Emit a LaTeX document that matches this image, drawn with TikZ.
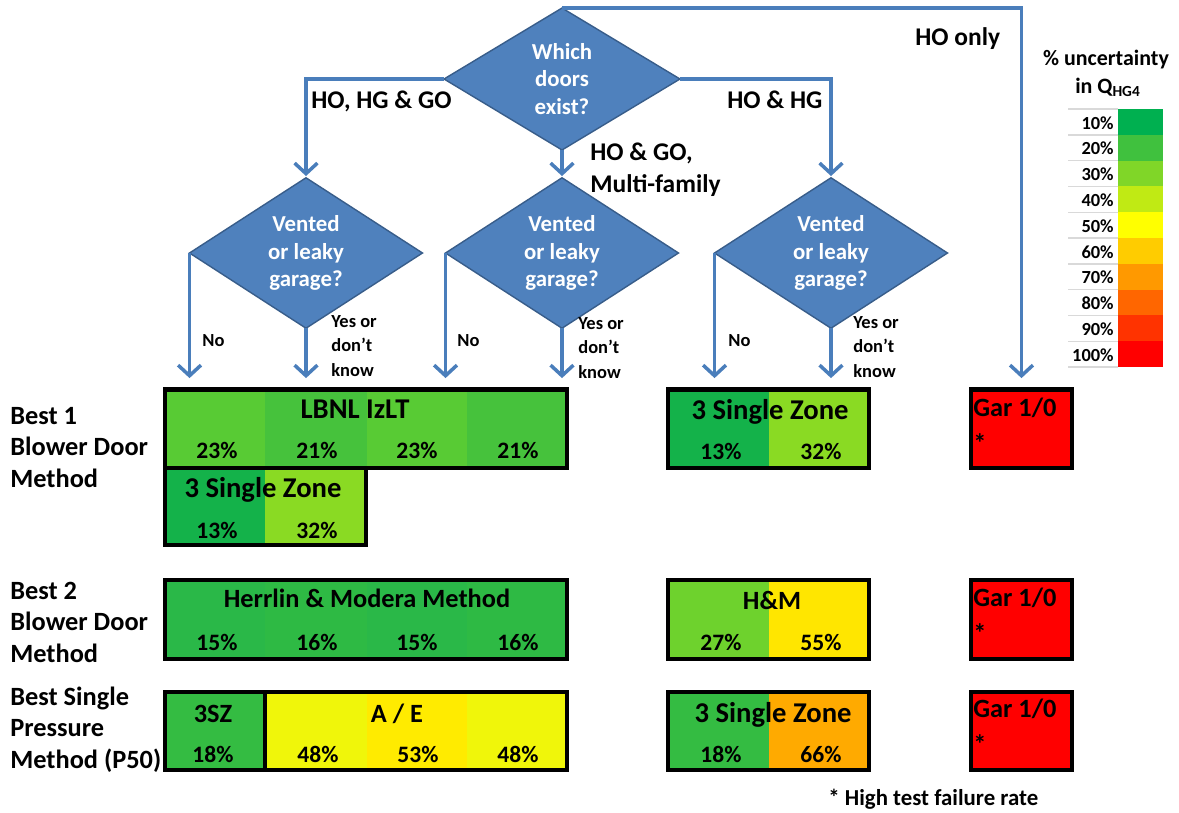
\documentclass[tikz,border=0pt]{standalone}
\usepackage{fontspec}
\setmainfont{Carlito}
\usetikzlibrary{shapes.geometric,arrows.meta}

\definecolor{askblue}{RGB}{79,129,189}
\definecolor{askedge}{RGB}{56,93,138}
\definecolor{lineblue}{RGB}{74,126,187}
% legend scale
\definecolor{p10}{RGB}{0,176,80}
\definecolor{p20}{RGB}{64,193,62}
\definecolor{p30}{RGB}{128,214,40}
\definecolor{p40}{RGB}{192,234,20}
\definecolor{p50}{RGB}{255,255,0}
\definecolor{p60}{RGB}{255,204,0}
\definecolor{p70}{RGB}{255,153,0}
\definecolor{p80}{RGB}{255,102,0}
\definecolor{p90}{RGB}{255,51,0}
\definecolor{p100}{RGB}{255,0,0}
% cell colours
\definecolor{c13}{RGB}{20,178,74}
\definecolor{c15}{RGB}{42,184,72}
\definecolor{c16}{RGB}{46,186,68}
\definecolor{c18}{RGB}{52,188,66}
\definecolor{c21}{RGB}{70,194,60}
\definecolor{c23}{RGB}{88,203,52}
\definecolor{c27}{RGB}{110,210,45}
\definecolor{c32}{RGB}{138,218,35}
\definecolor{c48}{RGB}{240,246,10}
\definecolor{c53}{RGB}{255,235,0}
\definecolor{c55}{RGB}{255,230,0}
\definecolor{c66}{RGB}{255,170,0}

\tikzset{
  flow/.style={draw=lineblue, line width=2pt, -{Straight Barb[length=6pt,width=13pt]}},
  tobox/.style={flow, shorten >=6.5pt},
  ask/.style={diamond, draw=askedge, fill=askblue, line width=0.8pt, text=white, align=center,
    inner sep=0pt, outer sep=0pt, minimum width=4.66cm, minimum height=2.86cm,
    font=\bfseries\fontsize{13}{15.6}\selectfont},
  branch/.style={anchor=base west, inner sep=0pt, align=left, font=\bfseries\fontsize{14.5}{18.2}\selectfont},
  answer/.style={anchor=base west, inner sep=0pt, align=left, font=\bfseries\fontsize{10.5}{13.7}\selectfont},
  rowlab/.style={anchor=base west, inner sep=0pt, align=left, font=\bfseries\fontsize{15}{17.9}\selectfont},
  frame/.style={draw=black, line width=2.45pt, inner sep=0pt, outer sep=0pt},
  bigname/.style={anchor=base, inner sep=0pt, font=\bfseries\fontsize{16.3}{19}\selectfont},
  midname/.style={anchor=base, inner sep=0pt, font=\bfseries\fontsize{15}{18}\selectfont},
  pct/.style={anchor=base, inner sep=0pt, font=\bfseries\fontsize{13.4}{16}\selectfont},
  garname/.style={anchor=base west, inner sep=0pt, align=left, font=\bfseries\fontsize{15}{20}\selectfont},
  legtitle/.style={anchor=base, inner sep=0pt, font=\bfseries\fontsize{12.5}{15}\selectfont},
  legtext/.style={anchor=base east, inner sep=0pt, font=\bfseries\fontsize{10.5}{12}\selectfont},
  leggrid/.style={draw=black!15, line width=0.8pt},
  note/.style={anchor=base west, inner sep=0pt, font=\bfseries\fontsize{13}{16}\selectfont}
}

\begin{document}
\begin{tikzpicture}[x=0.02cm,y=-0.02cm]
\useasboundingbox (0,0) rectangle (1179,812);

% decisions
\node[ask, minimum width=4.72cm, minimum height=2.84cm] (doors) at (562,79) {Which\\doors\\exist?};
\node[ask] (vent1) at (306,253) {Vented\\or leaky\\garage?};
\node[ask] (vent2) at (562,253) {Vented\\or leaky\\garage?};
\node[ask] (vent3) at (831,253) {Vented\\or leaky\\garage?};

% row 1 cells
\foreach \xa/\xb/\col in {165/265/c23, 265/367/c21, 367/467/c23, 467/567/c21}
  \fill[\col] (\xa,389.5) rectangle (\xb,468);
\fill[c13] (165,468) rectangle (265,545);
\fill[c32] (265,468) rectangle (366,545);
\fill[c13] (668,389.5) rectangle (769,468);
\fill[c32] (769,389.5) rectangle (869,468);
\fill[p100] (971,389.5) rectangle (1072,468);

% row 2 cells
\foreach \xa/\xb/\col in {165/265/c15, 265/367/c16, 367/467/c15, 467/567/c16}
  \fill[\col] (\xa,580) rectangle (\xb,659);
\fill[c27] (668,580) rectangle (769,659);
\fill[c55] (769,580) rectangle (869,659);
\fill[p100] (971,580) rectangle (1072,659);

% row 3 cells
\foreach \xa/\xb/\col in {165/265/c18, 265/367/c48, 367/467/c53, 467/567/c48}
  \fill[\col] (\xa,692) rectangle (\xb,770);
\fill[c18] (668,692) rectangle (769,770);
\fill[c66] (769,692) rectangle (869,770);
\fill[p100] (971,692) rectangle (1072,770);

% frames
\node[frame, minimum width=8.04cm, minimum height=1.57cm] (lbnl) at (366,428.75) {};
\node[frame, minimum width=4.02cm, minimum height=1.54cm] (szleft) at (265.5,506.5) {};
\node[frame, minimum width=4.02cm, minimum height=1.57cm] (szright) at (768.5,428.75) {};
\node[frame, minimum width=2.02cm, minimum height=1.57cm] (gar1) at (1021.5,428.75) {};
\node[frame, minimum width=8.04cm, minimum height=1.58cm] (herr) at (366,619.5) {};
\node[frame, minimum width=4.02cm, minimum height=1.58cm] (hm) at (768.5,619.5) {};
\node[frame, minimum width=2.02cm, minimum height=1.58cm] (gar2) at (1021.5,619.5) {};
\node[frame, minimum width=2.0cm, minimum height=1.56cm] (sz3) at (215,731) {};
\node[frame, minimum width=6.04cm, minimum height=1.56cm] (ae) at (416,731) {};
\node[frame, minimum width=4.02cm, minimum height=1.56cm] (szp) at (768.5,731) {};
\node[frame, minimum width=2.02cm, minimum height=1.56cm] (gar3) at (1021.5,731) {};

% connectors
\draw[flow, shorten >=1pt] (doors.west) -| (vent1.north);
\draw[flow, shorten >=1pt] (doors.south) -- (vent2.north);
\draw[flow, shorten >=1pt] (doors.east) -| (vent3.north);
\draw[tobox] (doors.north) -| (gar1.north);
\draw[tobox] (vent1.west) -- (vent1.west |- lbnl.north);
\draw[tobox] (vent1.south) -- (vent1.south |- lbnl.north);
\draw[tobox] (vent2.west) -- (vent2.west |- lbnl.north);
\draw[tobox] (vent2.south) -- (vent2.south |- lbnl.north);
\draw[tobox] (vent3.west) -- (vent3.west |- szright.north);
\draw[tobox] (vent3.south) -- (vent3.south |- szright.north);

% branch labels (multi-line nodes sit on their last baseline)
\node[branch] (hoall) at (311,108) {HO, HG \& GO};
\node[branch] (hohg) at (727,108) {HO \& HG};
\node[branch] (hogo) at (590,192) {HO \& GO,\\Multi-family};
\node[branch] (hoonly) at (915,45) {HO only};
\node[answer] (no1) at (202,346) {No};
\node[answer] (no2) at (457,346) {No};
\node[answer] (no3) at (728,346) {No};
\node[answer] (yes1) at (331,376) {Yes or\\don’t\\know};
\node[answer] (yes2) at (578,378) {Yes or\\don’t\\know};
\node[answer] (yes3) at (853,377) {Yes or\\don’t\\know};

% row labels
\node[rowlab] (best1) at (10,487) {Best 1\\Blower Door\\Method};
\node[rowlab] (best2) at (10,662) {Best 2\\Blower Door\\Method};
\node[rowlab] (best3) at (10,768) {Best Single\\Pressure\\Method (P50)};

% row 1 texts
\node[bigname] (lbnlname) at (355,418) {LBNL IzLT};
\node[pct] (l1) at (217,458) {23\%};
\node[pct] (l2) at (317,458) {21\%};
\node[pct] (l3) at (417,458) {23\%};
\node[pct] (l4) at (518,458) {21\%};
\node[bigname] (szleftname) at (263,497) {3 Single Zone};
\node[pct] (s1) at (217,538) {13\%};
\node[pct] (s2) at (317,538) {32\%};
\node[bigname] (szrightname) at (770,419) {3 Single Zone};
\node[pct] (r1) at (721,459) {13\%};
\node[pct] (r2) at (821,459) {32\%};
\node[garname] (gar1name) at (973,452) {Gar 1/0\\*};

% row 2 texts
\node[midname] (herrname) at (367,607) {Herrlin \& Modera Method};
\node[pct] (h1) at (217,650) {15\%};
\node[pct] (h2) at (317,650) {16\%};
\node[pct] (h3) at (417,650) {15\%};
\node[pct] (h4) at (518,650) {16\%};
\node[midname] (hmname) at (772,609) {H\&M};
\node[pct] (m1) at (721,650) {27\%};
\node[pct] (m2) at (821,650) {55\%};
\node[garname] (gar2name) at (973,642) {Gar 1/0\\*};

% row 3 texts
\node[midname] (sz3name) at (213,722) {3SZ};
\node[pct] (p1) at (213,762) {18\%};
\node[midname] (aename) at (397,722) {A / E};
\node[pct] (a1) at (318,762) {48\%};
\node[pct] (a2) at (418,762) {53\%};
\node[pct] (a3) at (518,762) {48\%};
\node[bigname] (szpname) at (773,722) {3 Single Zone};
\node[pct] (q1) at (721,762) {18\%};
\node[pct] (q2) at (821,762) {66\%};
\node[garname] (gar3name) at (973,753) {Gar 1/0\\*};

% legend
\node[legtitle] (legtop) at (1106,65) {\% uncertainty};
\node[legtitle] (legq) at (1108,93) {in Q\textsubscript{HG4}};
\foreach \col/\lab [count=\i from 0] in {p10/10, p20/20, p30/30, p40/40, p50/50, p60/60, p70/70, p80/80, p90/90, p100/100} {
  \fill[\col] (1118,{109+25.8*\i}) rectangle (1163,{134.8+25.8*\i});
  \draw[leggrid] (1068,{109+25.8*\i}) -- (1118,{109+25.8*\i});
  \node[legtext] (leg\lab) at (1114,{129+25.8*\i}) {\lab\%};
}
\draw[leggrid] (1068,367) -- (1118,367);

\node[note] (foot) at (828,805) {* High test failure rate};
\end{tikzpicture}
\end{document}
